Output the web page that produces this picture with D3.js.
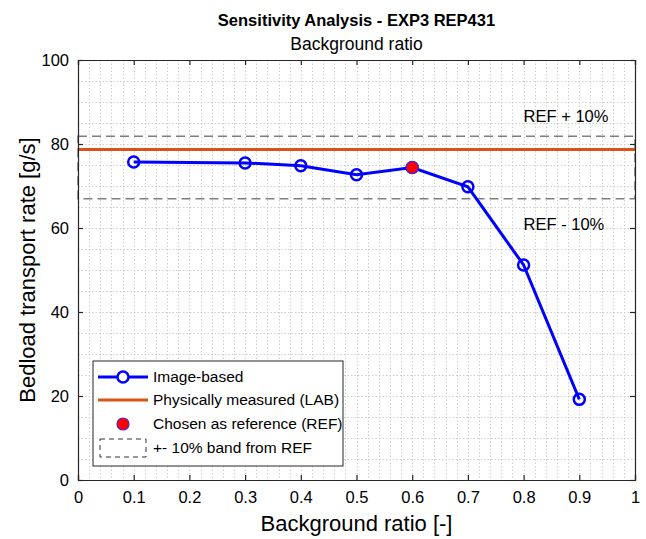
<!DOCTYPE html>
<html>
<head>
<meta charset="utf-8">
<script src="https://cdn.jsdelivr.net/npm/d3@7"></script>
<style>
  body { margin: 0; background: #fff; }
  text { font-family: "Liberation Sans", Arial, Helvetica, sans-serif; fill: #000; }
</style>
</head>
<body>
<div id="chart"></div>
<script>
// data
var ratios = [0.1, 0.3, 0.4, 0.5, 0.6, 0.7, 0.8, 0.9];
var imageBased = [75.7, 75.5, 74.8, 72.7, 74.4, 69.8, 51.2, 19.2];
var labMeasured = 78.7;
var refRatio = 0.6;
var refValue = 74.4;
var bandPct = 0.10;
var xTicks = [0, 0.1, 0.2, 0.3, 0.4, 0.5, 0.6, 0.7, 0.8, 0.9, 1];
var yTicks = [0, 20, 40, 60, 80, 100];
var legendLabels = ["Image-based", "Physically measured (LAB)", "Chosen as reference (REF)", "+- 10% band from REF"];

var W = 646, H = 539;
var m = {left: 78, right: 11, top: 60, bottom: 59};

var svg = d3.select("#chart").append("svg")
    .attr("width", W).attr("height", H);
svg.append("rect").attr("width", W).attr("height", H).attr("fill", "#fff");

var x = d3.scaleLinear().domain([0, 1]).range([m.left, W - m.right]);
var y = d3.scaleLinear().domain([0, 100]).range([H - m.bottom, m.top]);

// minor + major grid (dotted)
var grid = svg.append("g").attr("stroke", "#cfcfcf").attr("stroke-width", 1)
    .attr("stroke-dasharray", "1.5,2");
grid.selectAll("line.gx").data(d3.range(0.02, 1, 0.02)).enter().append("line")
    .attr("x1", function(d){ return Math.round(x(d)) + 0.5; })
    .attr("x2", function(d){ return Math.round(x(d)) + 0.5; })
    .attr("y1", y(100)).attr("y2", y(0));
grid.selectAll("line.gy").data(d3.range(5, 100, 5)).enter().append("line")
    .attr("y1", function(d){ return Math.round(y(d)) + 0.5; })
    .attr("y2", function(d){ return Math.round(y(d)) + 0.5; })
    .attr("x1", x(0)).attr("x2", x(1));

// +-10% band
svg.append("rect")
    .attr("x", x(0)).attr("width", x(1) - x(0))
    .attr("y", y(refValue * (1 + bandPct)))
    .attr("height", y(refValue * (1 - bandPct)) - y(refValue * (1 + bandPct)))
    .attr("fill", "none").attr("stroke", "#7f7f7f").attr("stroke-width", 1.6)
    .attr("stroke-dasharray", "9,5");

// LAB line
svg.append("line")
    .attr("x1", x(0)).attr("x2", x(1))
    .attr("y1", y(labMeasured)).attr("y2", y(labMeasured))
    .attr("stroke", "#D95319").attr("stroke-width", 3);

// axes box + ticks
var axisColor = "#262626";
var axB = svg.append("g").attr("transform", "translate(0," + y(0) + ")")
    .call(d3.axisBottom(x).tickValues(xTicks).tickSize(-5).tickPadding(11)
        .tickFormat(function(d){ return d === 0 || d === 1 ? d : d3.format(".1f")(d); }));
var axT = svg.append("g").attr("transform", "translate(0," + y(100) + ")")
    .call(d3.axisTop(x).tickValues(xTicks).tickSize(-5).tickFormat(""));
var axL = svg.append("g").attr("transform", "translate(" + x(0) + ",0)")
    .call(d3.axisLeft(y).tickValues(yTicks).tickSize(-5).tickPadding(9));
var axR = svg.append("g").attr("transform", "translate(" + x(1) + ",0)")
    .call(d3.axisRight(y).tickValues(yTicks).tickSize(-5).tickFormat(""));
[axB, axT, axL, axR].forEach(function(g){
    g.select(".domain").attr("stroke", axisColor).attr("stroke-width", 1.2);
    g.selectAll(".tick line").attr("stroke", axisColor).attr("stroke-width", 1.2);
    g.selectAll(".tick text").attr("font-size", 16.5).attr("fill", "#000")
        .attr("font-family", "Liberation Sans, Arial, sans-serif");
});

// image-based series
var line = d3.line()
    .x(function(d, i){ return x(ratios[i]); })
    .y(function(d){ return y(d); });
svg.append("path").datum(imageBased)
    .attr("d", line).attr("fill", "none")
    .attr("stroke", "#0000FF").attr("stroke-width", 3);
svg.selectAll("circle.pt").data(imageBased).enter().append("circle")
    .attr("cx", function(d, i){ return x(ratios[i]); })
    .attr("cy", function(d){ return y(d); })
    .attr("r", 5.5)
    .attr("fill", "none").attr("stroke", "#0000FF").attr("stroke-width", 2.5);

// chosen reference
svg.append("circle")
    .attr("cx", x(refRatio)).attr("cy", y(refValue)).attr("r", 6)
    .attr("fill", "#FF0000").attr("stroke", "#5a22c8").attr("stroke-width", 1.2);

// band annotations
svg.append("text").attr("x", x(0.8)).attr("y", y(86.5)).attr("dy", "0.35em")
    .attr("font-size", 16.5).text("REF + 10%");
svg.append("text").attr("x", x(0.8)).attr("y", y(60.8)).attr("dy", "0.35em")
    .attr("font-size", 16.5).text("REF - 10%");

// titles
svg.append("text").attr("x", (x(0) + x(1)) / 2).attr("y", 26)
    .attr("text-anchor", "middle").attr("font-size", 16.5).attr("font-weight", "bold")
    .text("Sensitivity Analysis - EXP3 REP431");
svg.append("text").attr("x", (x(0) + x(1)) / 2).attr("y", 50)
    .attr("text-anchor", "middle").attr("font-size", 17.5)
    .text("Background ratio");
svg.append("text").attr("x", (x(0) + x(1)) / 2).attr("y", 531)
    .attr("text-anchor", "middle").attr("font-size", 22)
    .text("Background ratio [-]");
svg.append("text")
    .attr("transform", "translate(35," + ((y(0) + y(100)) / 2) + ") rotate(-90)")
    .attr("text-anchor", "middle").attr("font-size", 22)
    .text("Bedload transport rate [g/s]");

// legend
var lg = svg.append("g").attr("transform", "translate(93,361)");
lg.append("rect").attr("width", 250).attr("height", 105)
    .attr("fill", "#fff").attr("stroke", axisColor).attr("stroke-width", 1);
var rowY = [16, 39, 63, 87];
lg.append("line").attr("x1", 5).attr("x2", 55).attr("y1", rowY[0]).attr("y2", rowY[0])
    .attr("stroke", "#0000FF").attr("stroke-width", 3);
lg.append("circle").attr("cx", 30).attr("cy", rowY[0]).attr("r", 5.5)
    .attr("fill", "#fff").attr("stroke", "#0000FF").attr("stroke-width", 2.5);
lg.append("line").attr("x1", 5).attr("x2", 55).attr("y1", rowY[1]).attr("y2", rowY[1])
    .attr("stroke", "#D95319").attr("stroke-width", 3);
lg.append("circle").attr("cx", 30).attr("cy", rowY[2]).attr("r", 6)
    .attr("fill", "#FF0000").attr("stroke", "#5a22c8").attr("stroke-width", 1.2);
lg.append("rect").attr("x", 7).attr("y", rowY[3] - 9).attr("width", 46).attr("height", 18)
    .attr("fill", "none").attr("stroke", "#333").attr("stroke-width", 1)
    .attr("stroke-dasharray", "5,4");
lg.selectAll("text.lab").data(legendLabels).enter().append("text")
    .attr("x", 60).attr("y", function(d, i){ return rowY[i]; }).attr("dy", "0.35em")
    .attr("font-size", 15.5).text(function(d){ return d; });
</script>
</body>
</html>
